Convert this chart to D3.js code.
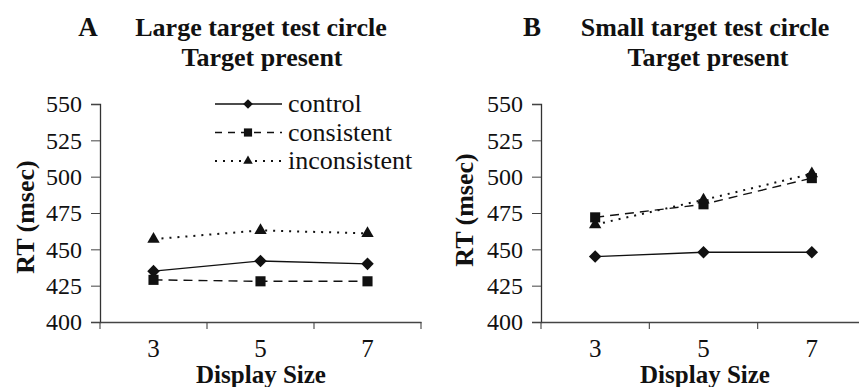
<!DOCTYPE html>
<html><head><meta charset="utf-8">
<script src="https://cdn.jsdelivr.net/npm/d3@7"></script>
<style>body{margin:0;background:#fff}svg{display:block}</style>
</head><body>
<svg id="c" width="859" height="387"></svg>
<script>
const categories = ["3", "5", "7"];
const yTicks = [400, 425, 450, 475, 500, 525, 550];
const seriesNames = ["control", "consistent", "inconsistent"];
const panelA_control = [435, 442, 440];
const panelA_consistent = [429, 428, 428];
const panelA_inconsistent = [457, 463, 461];
const panelB_control = [445, 448, 448];
const panelB_consistent = [472, 481, 499];
const panelB_inconsistent = [467, 484, 502];
const panelLetters = ["A", "B"];
const titles1 = ["Large target test circle", "Small target test circle"];
const titles2 = ["Target present", "Target present"];

const FONT = '"Liberation Serif", "Times New Roman", serif';
const svg = d3.select("#c");
const styles = {
  control: {dash: null, sym: d3.symbolDiamond2, size: 100, lsize: 60},
  consistent: {dash: "9,6", sym: d3.symbolSquare2, size: 130, lsize: 85},
  inconsistent: {dash: "2,6", sym: d3.symbolTriangle2, size: 110, lsize: 65}
};
const panels = [
  {x0: 100, x1: 421, data: [panelA_control, panelA_consistent, panelA_inconsistent], legend: true},
  {x0: 541, x1: 866, data: [panelB_control, panelB_consistent, panelB_inconsistent], legend: false}
];
const yTop = 104, yBot = 322;

function txt(sel, size, bold) {
  return sel.style("font-family", FONT).style("font-size", size + "px")
    .style("font-weight", bold ? "bold" : "normal").attr("fill", "#111");
}

panels.forEach((p, pi) => {
  const g = svg.append("g");
  const x = d3.scaleBand().domain(categories).range([p.x0, p.x1]).padding(0);
  const y = d3.scaleLinear().domain([400, 550]).range([yBot, yTop]);

  // y axis
  const ya = g.append("g").attr("transform", `translate(${p.x0},0)`)
    .call(d3.axisLeft(y).tickValues(yTicks).tickSize(9).tickPadding(9).tickFormat(d3.format("d")));
  ya.select(".domain").attr("stroke", "#333").attr("stroke-width", 1.3);
  ya.selectAll(".tick line").attr("stroke", "#444").attr("stroke-width", 1);
  txt(ya.selectAll("text"), 24, false);

  // x axis: labels at category centres
  const xa = g.append("g").attr("transform", `translate(0,${yBot})`)
    .call(d3.axisBottom(x).tickSize(0));
  xa.select(".domain").attr("stroke", "#444").attr("stroke-width", 1.3);
  txt(xa.selectAll("text"), 25, false).attr("y", 35).attr("dy", null);
  // boundary tick marks between categories
  const bounds = categories.map(c => x(c) + x.bandwidth()).concat([x(categories[0])]);
  g.selectAll(".bt").data(bounds).enter().append("line")
    .attr("x1", d => d).attr("x2", d => d).attr("y1", yBot).attr("y2", yBot + 7)
    .attr("stroke", "#444").attr("stroke-width", 1.1);

  // series
  seriesNames.forEach((name, si) => {
    const vals = p.data[si];
    const st = styles[name];
    const line = d3.line().x((d, i) => x(categories[i]) + x.bandwidth() / 2).y(d => y(d));
    g.append("path").datum(vals).attr("d", line).attr("fill", "none")
      .attr("stroke", "#111").attr("stroke-width", name === "inconsistent" ? 2 : 1.4)
      .attr("stroke-dasharray", st.dash);
    g.selectAll(".m" + si).data(vals).enter().append("path")
      .attr("d", d3.symbol().type(st.sym).size(st.size))
      .attr("transform", (d, i) => `translate(${x(categories[i]) + x.bandwidth() / 2},${y(d)})`)
      .attr("fill", "#111");
  });

  // titles
  const tcx = pi === 0 ? 261 : 705;
  txt(g.append("text").attr("x", pi === 0 ? 88 : 532).attr("y", 36).attr("text-anchor", "middle"), 27, true)
    .text(panelLetters[pi]);
  txt(g.append("text").attr("x", tcx).attr("y", 36).attr("text-anchor", "middle"), 26, true)
    .text(titles1[pi]);
  txt(g.append("text").attr("x", tcx + (pi === 0 ? 1 : 3)).attr("y", 66).attr("text-anchor", "middle"), 26, true)
    .text(titles2[pi]);
  // axis titles
  txt(g.append("text").attr("transform", `translate(${pi === 0 ? 34 : 473},${pi === 0 ? 217 : 210}) rotate(-90)`)
    .attr("text-anchor", "middle"), 26, true).text("RT (msec)");
  txt(g.append("text").attr("x", pi === 0 ? 261 : 705).attr("y", 383).attr("text-anchor", "middle"), 25, true)
    .text("Display Size");

  if (p.legend) {
    const lg = g.append("g");
    const ly = d3.scalePoint().domain(seriesNames).range([104, 161]);
    seriesNames.forEach(name => {
      const st = styles[name];
      const yy = ly(name);
      lg.append("line").attr("x1", 215).attr("x2", 282).attr("y1", yy).attr("y2", yy)
        .attr("stroke", "#111").attr("stroke-width", name === "inconsistent" ? 2 : 1.3)
        .attr("stroke-dasharray", name === "consistent" ? "7,6" : st.dash);
      lg.append("path").attr("d", d3.symbol().type(st.sym).size(st.lsize))
        .attr("transform", `translate(248,${yy})`).attr("fill", "#111");
      txt(lg.append("text").attr("x", 288).attr("y", yy + 8), 26, false).text(name);
    });
  }
});
</script>
</body></html>
